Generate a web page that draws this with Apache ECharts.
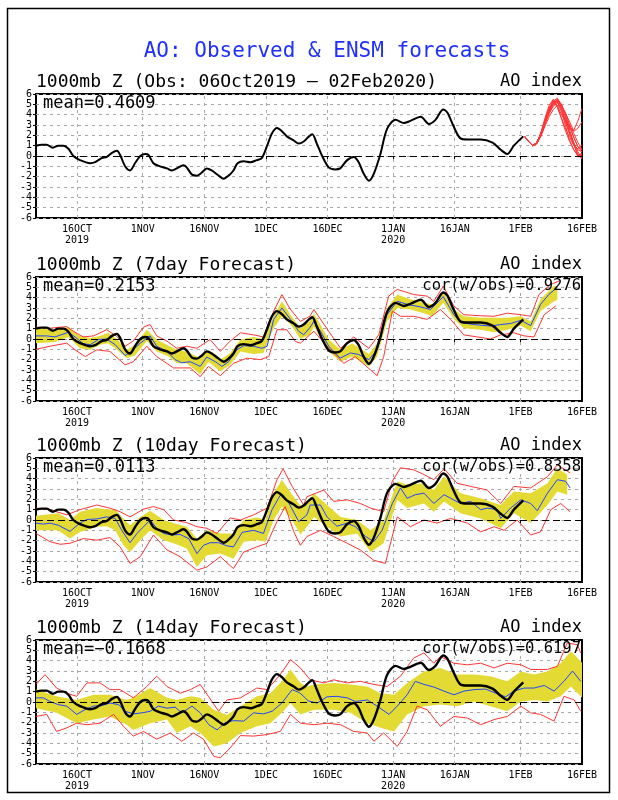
<!DOCTYPE html>
<html>
<head>
<meta charset="utf-8">
<script src="https://cdn.jsdelivr.net/npm/echarts@6/dist/echarts.min.js"></script>
<style>
  html, body { margin: 0; padding: 0; background: #fff; }
  #chart { width: 618px; height: 800px; }
</style>
</head>
<body>
<div id="chart"></div>
<script>
// x values are days since 06 Oct 2019
const xTickDays = [10, 26, 41, 56, 71, 87, 102, 118, 133];
const xTickLabels = ['16OCT\n2019', '1NOV', '16NOV', '1DEC', '16DEC', '1JAN\n2020', '16JAN', '1FEB', '16FEB'];
const yTicks = [-6, 6, 1];

// observed AO index
const obsAO = [[0,1.0],[1.4,1.1],[2.6,1.1],[4.1,0.8],[5.4,1.0],[6.7,1.0],[7.9,0.7],[9.1,0.0],[10.7,-0.4],[13.2,-0.7],[14.4,-0.6],[16,-0.2],[17.2,-0.1],[18.5,0.3],[19.7,0.5],[20.5,0.1],[21.7,-1.0],[22.9,-1.4],[24.1,-0.7],[25.4,0.0],[26.6,0.2],[27.4,0.1],[28.6,-0.7],[30.2,-1.0],[31.9,-1.2],[33.1,-1.4],[34.3,-1.2],[35.9,-0.9],[36.7,-1.1],[38,-1.8],[39.2,-1.9],[40.4,-1.6],[41.6,-1.2],[42.8,-1.4],[44.5,-1.9],[45.7,-2.2],[46.9,-1.9],[48.1,-1.4],[49.1,-0.7],[50.6,-0.5],[52.2,-0.6],[53.8,-0.4],[55,-0.2],[56.3,1.0],[57.5,2.2],[58.7,2.7],[59.9,2.4],[61.1,1.9],[62.8,1.5],[64,1.2],[65.2,1.4],[66.5,1.9],[67.3,2.1],[68.4,1.2],[69.7,0],[71.3,-1.1],[72.9,-1.3],[74.1,-1.2],[75.8,-0.4],[77.4,-0.1],[78.6,-0.6],[79.8,-1.7],[81.1,-2.4],[82.3,-1.7],[83.9,0.2],[85.5,2.6],[87.6,3.5],[89.6,3.2],[91.2,3.4],[93.7,3.8],[95.7,3.1],[97.3,3.5],[99.2,4.5],[100.2,4.2],[101.8,2.8],[103.4,1.7],[105.1,1.6],[108.3,1.6],[111.2,1.3],[113.2,0.6],[114.8,0.2],[116.4,1.0],[118.7,1.9]];

// ensemble members, 02 Feb - 16 Feb
const ensDays = [119,120,121,122,123,124,125,126,127,128,129,130,131,132,133];
const ensMembers = [
  [1.9,1.4,1.0,1.3,2.1,3.3,4.4,5.2,5.3,4.5,3.2,2.1,1.2,0.6,0.4],
  [1.9,1.4,1.0,1.3,2.3,3.7,4.9,5.5,4.8,3.6,2.4,1.4,0.6,0.1,0.2],
  [1.9,1.4,1.0,1.3,2.1,3.2,4.3,5.0,5.5,5.0,3.9,2.5,1.3,0.4,-0.2],
  [1.9,1.4,1.0,1.2,2.0,3.1,4.1,4.8,5.2,4.5,3.4,2.7,2.5,3.4,4.6],
  [1.9,1.4,1.0,1.3,2.2,3.4,4.5,5.3,5.6,4.9,3.7,2.2,1.1,0.2,-0.3],
  [1.9,1.4,1.0,1.2,1.9,2.9,3.8,4.5,4.9,4.8,4.2,3.0,1.8,0.9,0.4],
  [1.9,1.4,1.0,1.3,2.2,3.5,4.7,5.3,4.7,3.7,2.6,1.8,1.0,0.7,1.1],
  [1.9,1.4,1.0,1.2,2.1,3.3,4.3,5.0,5.4,4.9,4.1,3.3,2.4,2.7,3.3],
  [1.9,1.4,1.0,1.3,2.2,3.4,4.6,5.4,5.2,4.3,2.9,1.5,0.6,0.0,0.3],
  [1.9,1.4,1.0,1.2,2.0,3.2,4.2,4.9,5.3,5.0,3.9,2.8,1.8,0.9,0.6],
  [1.9,1.4,1.0,1.3,2.1,3.3,4.4,5.1,5.5,4.7,3.3,2.2,1.2,-0.1,0.1],
  [1.9,1.4,1.0,1.3,2.1,3.4,4.5,5.2,4.9,4.0,3.4,3.0,2.2,1.3,0.6]
];

// 7day forecast
const f7Mean = [[0,0.3],[2.6,0.3],[4.6,0.2],[7.9,0.65],[9.5,0.2],[11.5,-0.45],[13.2,-0.55],[15.2,-0.05],[17.2,0],[19.3,-0.55],[21.7,-1.6],[23.3,-1.2],[25.4,-0.4],[27.8,0.3],[29.4,-0.7],[31.9,-1.2],[33.9,-2.0],[35.5,-2.3],[37.6,-2.2],[40,-2.65],[41.6,-1.75],[43.7,-2.2],[45.3,-2.65],[46.9,-2.2],[48.9,-1.05],[50.6,-0.65],[53,-0.7],[55,-0.9],[56.3,-0.7],[57.9,1.9],[59.9,3.0],[62,1.9],[64,0.75],[65.2,0.4],[66.7,1.1],[67.7,1.7],[69.3,0.75],[71.3,-0.7],[74.1,-1.85],[76.6,-1.35],[78.6,-1.5],[81.1,-2.0],[83.1,-1.05],[85.5,2.35],[88,3.65],[90.4,3.35],[93.7,3.1],[96.1,2.85],[99.2,4.1],[101.8,2.35],[103.4,1.6],[106.6,1.4],[110.7,1.25],[113.2,1.4],[115.6,1.5],[118.1,1.8],[120.5,1.3],[122.9,3.35],[124.9,4.3],[127,5.0]];
const f7SpreadHi = [[0,1.05],[4.6,0.9],[7.9,1.15],[10.7,0.3],[13.2,0.1],[15.6,0.3],[17.6,0.6],[19.7,0],[22.1,-1.05],[24.1,-0.55],[27,0.9],[29.4,-0.05],[32.3,-0.65],[34.3,-1.05],[36.7,-1.2],[40,-1.85],[42,-1.1],[44.9,-2.0],[47.3,-1.35],[49.8,-0.05],[53,0.2],[55.4,0],[57.9,2.2],[59.9,3.65],[62,2.35],[64.4,1.05],[66.7,1.7],[67.7,2.5],[71.3,-0.05],[74.2,-1.05],[77,-0.4],[81.1,-1.45],[83.1,-0.4],[85.5,3.0],[88,4.3],[91.2,3.85],[94.5,3.5],[96.5,3.35],[99.2,4.5],[101.8,2.85],[104.2,2.2],[108.3,2.05],[111.6,2.05],[114.8,2.05],[118.1,2.2],[120.5,1.7],[122.9,3.85],[126.2,5.15],[127,5.1]];
const f7SpreadLo = [[0,-0.4],[4.6,-0.3],[7.9,0.2],[10.7,-0.9],[13.2,-1.05],[15.6,-0.55],[17.6,-0.4],[19.7,-1.05],[22.1,-1.85],[24.1,-1.6],[27,-0.2],[29.4,-1.2],[32.3,-1.7],[34.3,-2.35],[36.7,-2.35],[40,-3.4],[42,-2.2],[44.9,-3.15],[47.3,-2.5],[49.8,-1.2],[53,-1.45],[55.4,-1.35],[57.9,1.05],[59.9,2.2],[62,1.4],[64.4,0],[66.7,0.4],[67.7,1.2],[71.3,-1.2],[74.2,-2.2],[77,-1.7],[81.1,-2.65],[83.1,-1.7],[85.5,1.7],[88,3.0],[91.2,2.85],[94.5,2.5],[96.5,2.2],[99.2,3.5],[101.8,1.9],[104.2,1.05],[108.3,0.9],[111.6,0.65],[114.8,0.9],[118.1,1.3],[120.5,0.75],[122.9,2.7],[126.2,3.65],[127,3.8]];
const f7Max = [[0,1.15],[3.4,1.05],[7.5,1.2],[9.1,0.75],[11.5,0.2],[14,0.3],[17.2,0.9],[19.7,0.25],[21.7,-0.7],[23.7,-0.2],[26.2,1.15],[27.8,1.4],[29.4,0.3],[31.9,-0.2],[34.3,-0.9],[36.7,-0.7],[39.2,-0.9],[42.4,-0.05],[44.9,-1.2],[47.3,-0.2],[49.8,0.6],[53,0.4],[55.4,0.2],[57.9,2.7],[59.9,4.3],[62,2.85],[64.4,1.7],[66.7,2.2],[67.7,2.85],[71.3,0.75],[74.2,-0.9],[77.4,0.2],[81.1,-0.9],[83.5,0.4],[85.9,4.15],[88,4.8],[92,4.3],[95.3,4.15],[96.9,3.65],[99.2,5.1],[101.8,3.2],[104.2,2.35],[108.3,2.25],[111.6,2.2],[114.8,2.5],[118.1,2.35],[120.5,2.2],[122.5,4.3],[125.4,5.3],[127.4,5.6]];
const f7Min = [[0,-1.0],[3.4,-0.7],[7.5,-0.4],[9.5,-1.05],[12,-1.7],[14.8,-1.05],[18,-1.2],[21.7,-2.5],[23.7,-2.2],[27,-0.7],[29.4,-1.7],[33.5,-2.8],[37.6,-2.8],[40,-3.65],[42,-2.65],[44.9,-3.55],[48.1,-2.35],[51.4,-1.85],[54.6,-2.0],[56.7,-1.7],[58.7,0.9],[61.1,0.9],[63.2,-0.25],[64.4,-0.4],[66.7,0.4],[67.7,0.75],[71.7,-1.05],[75,-2.35],[77.8,-1.7],[81.5,-3.0],[83.1,-3.55],[84.7,-1.7],[86.8,2.7],[88.8,2.2],[92,2.2],[95.3,1.9],[98.5,2.85],[101,1.9],[104.2,0.4],[107.5,0.2],[110.7,0],[113.2,0.4],[116.4,0.6],[118.9,0.3],[121.3,0.2],[123.8,2.35],[126.6,3.2]];

// 10day forecast
const f10Mean = [[0,-0.3],[1.8,-0.4],[3.4,-0.3],[5.4,-0.5],[8.3,-1.1],[10.7,-0.3],[12.4,0.05],[14.8,0.1],[17.2,0.3],[19.3,0.15],[20.9,-1.0],[22.9,-2.2],[24.6,-1.3],[26.2,-0.65],[27.8,0],[29.4,-0.8],[31.1,-1.3],[33.1,-1.45],[35.1,-1.4],[37.2,-1.8],[39.2,-3.25],[40.8,-2.45],[42.4,-2.2],[44.5,-2.2],[46.5,-2.5],[48.1,-2.6],[50.2,-1.2],[53,-1.0],[55.4,-1.3],[57.5,1.0],[59.5,2.4],[61.5,1.7],[64,-0.15],[66,0.5],[66.8,1.45],[69.3,1.45],[70.9,0.3],[73.3,-0.6],[75.8,-0.3],[77.8,-0.65],[80.3,-1.6],[82.3,-2.1],[84.3,-1.0],[86.8,1.6],[88.8,3.1],[90.4,2.1],[92.4,2.45],[94.5,2.6],[96.9,1.6],[99.4,2.45],[101,2.1],[103.4,1.6],[105.9,1.8],[108.3,1.0],[109.9,1.15],[112.4,1.0],[113.2,0.15],[115.6,1.15],[118.1,1.95],[120.5,1.6],[122.1,0.9],[124.6,2.6],[127,3.9],[129,3.75],[130.1,3.1]];
const f10SpreadHi = [[0,0.4],[5.4,0.65],[8.3,0],[10.7,0.8],[14.8,1.15],[17.2,1.05],[19.3,1.0],[21.3,0.15],[22.9,-0.5],[25.4,0.3],[27.8,0.9],[31.1,0],[33.5,-0.3],[36.7,-0.65],[39.2,-1.8],[41.6,-1.0],[44.9,-1.3],[48.1,-1.3],[50.6,0],[53.8,0.25],[55.9,0],[57.9,2.6],[59.9,3.9],[62.4,2.45],[64.4,1.4],[66,1.6],[67.7,2.6],[70.9,1.45],[74.2,0.3],[78.2,0],[81.5,-1.0],[84.7,0],[88,3.75],[90.4,3.4],[94.5,3.55],[96.9,2.9],[99.4,4.2],[103.4,2.6],[108.3,2.1],[113.2,1.45],[116.4,2.75],[120.5,2.6],[124.6,3.55],[127,5.0],[129.4,4.4]];
const f10SpreadLo = [[0,-1.0],[5.4,-1.0],[8.3,-1.8],[10.7,-1.15],[14.8,-0.65],[17.2,-0.6],[19.3,-1.0],[21.3,-2.45],[22.9,-3.1],[25.4,-1.95],[27.8,-1.0],[31.1,-1.95],[33.5,-2.25],[36.7,-2.75],[39.2,-4.55],[41.6,-3.4],[44.9,-3.25],[48.1,-3.75],[50.6,-2.1],[53.8,-1.95],[55.9,-2.1],[57.9,0],[59.9,1.3],[62.4,0],[64.4,-1.4],[66,-0.65],[67.7,0.3],[70.9,-0.65],[74.2,-1.6],[78.2,-1.3],[81.5,-3.1],[84.7,-2.25],[88,1.95],[90.4,1.15],[94.5,1.6],[96.9,0.8],[99.4,1.8],[103.4,0.65],[108.3,0.15],[113.2,-0.8],[116.4,0.65],[120.5,-0.3],[124.6,1.45],[127,2.75],[129.4,2.45]];
const f10Max = [[0,1.15],[3.4,1.0],[7.5,0.5],[10.7,1.0],[14.8,1.45],[18,1.15],[20.5,0.8],[22.9,0.3],[26.2,1.05],[28.6,1.3],[31.1,1.0],[33.5,0],[36.7,-0.25],[39.2,-0.65],[41.6,-0.8],[44.1,-1.3],[47.3,0.2],[49.8,0],[53,0.5],[56.3,1.15],[58.7,3.9],[60.2,4.95],[62.4,3.25],[65.2,1.45],[66,2.25],[70.1,2.9],[72.5,1.8],[75.8,1.95],[79,1.6],[81.5,1.15],[84.7,0.8],[86.8,3.75],[88.8,5.05],[92,4.85],[94.5,4.4],[96.9,3.9],[99.4,4.95],[102.6,3.55],[105.9,3.25],[109.9,2.9],[113.2,1.6],[116.4,3.25],[120.5,3.1],[124.6,4.2],[127,5.35],[130.1,4.55]];
const f10Min = [[0,-1.3],[3.4,-2.1],[5.9,-2.35],[8.3,-2.25],[11.5,-1.8],[14.8,-1.95],[18,-1.7],[20.5,-2.6],[22.9,-4.2],[25.4,-3.55],[28.6,-1.45],[31.9,-2.9],[35.1,-3.55],[39.2,-4.85],[41.6,-4.55],[44.9,-3.55],[48.1,-4.7],[50.6,-3.1],[53.8,-2.6],[56.3,-2.25],[58.7,-0.15],[60.7,1.3],[62.8,-1.15],[64.4,-2.45],[66,-1.6],[69.3,-1.0],[72.5,-1.6],[75.8,-2.25],[79,-2.9],[82.3,-3.9],[85.1,-4.2],[88,0.3],[91.2,-0.65],[94.5,0],[97.7,-0.3],[101,0.15],[105.1,-0.3],[108.3,-1.15],[111.6,-0.65],[114,-1.0],[117.2,0],[120.5,-1.45],[122.9,-1.15],[125.4,1.0],[127.8,1.6],[130.1,0.8]];

// 14day forecast
const f14Mean = [[0,0.4],[1.8,0.4],[3.4,0.05],[5.4,-0.25],[7.5,-0.4],[9.9,-1.2],[11.9,-0.75],[14,-0.4],[16,-0.35],[18,-0.1],[20.1,-0.25],[21.7,-0.9],[23.7,-1.15],[25.8,-1.05],[27.8,-0.9],[29.8,-0.4],[31.9,-0.6],[33.9,-0.5],[35.5,-1.05],[38,-0.4],[40,-1.05],[42.1,-2.2],[44.1,-2.7],[46.1,-2.0],[48.1,-1.8],[50.6,-1.85],[53,-1.05],[55.4,-1.15],[57.5,-0.9],[59.9,-0.1],[62.4,1.2],[64.2,0.9],[65.6,0.4],[66.3,0.1],[68.5,-0.1],[70.9,0.5],[73.3,0.55],[75.8,0.4],[77.8,0.05],[80.7,0.2],[83.1,-0.4],[86,-1.2],[88,-0.4],[90.4,0.7],[92.4,2.0],[94.5,1.7],[96.9,1.45],[99.4,1.05],[101.8,0.7],[104.2,1.05],[106.7,1.2],[109.5,1.25],[112,0.85],[114.4,0.5],[116.4,1.05],[118.9,1.35],[121.3,1.35],[123.8,1.6],[126.2,1.05],[128.6,2.0],[130.7,3.0],[132.7,2.0]];
const f14SpreadHi = [[0,1.2],[5,0.55],[9.9,0.2],[14,0.7],[18,0.7],[22.1,0.2],[23.7,0.4],[27.8,1.35],[31.9,0.4],[34.3,0.2],[37.6,0.55],[40,0.4],[43.3,-0.75],[46.5,-1.25],[49.8,-0.4],[53.8,0.55],[57.1,0.85],[59.9,2.0],[62,3.15],[64.4,1.85],[66,1.5],[67.7,1.7],[72.5,1.85],[76.6,1.7],[80.7,1.5],[83.9,0.85],[87.2,0.7],[90.4,1.85],[94.5,2.95],[98.5,3.3],[102.6,2.65],[106.7,2.65],[110.7,2.5],[114.8,2.0],[118.1,2.95],[121.3,2.65],[124.6,2.95],[127.8,3.75],[130.3,4.9],[132.7,3.95],[133,3.8]];
const f14SpreadLo = [[0,-0.6],[5,-1.05],[9.9,-2.05],[14,-1.7],[18,-1.4],[22.1,-2.2],[23.7,-2.7],[27.8,-2.05],[31.9,-1.7],[34.3,-3.0],[37.6,-2.35],[40,-3.0],[43.3,-4.3],[46.5,-4.0],[49.8,-3.0],[53.8,-2.35],[57.1,-2.05],[59.9,-1.05],[62,-0.1],[64.4,-1.2],[67.7,-0.75],[72.5,-0.75],[76.6,-1.05],[80.7,-2.05],[83.9,-2.5],[87.2,-2.85],[90.4,-1.2],[94.5,-0.4],[98.5,-0.25],[102.6,-0.4],[106.7,0.05],[110.7,-0.4],[114.8,-0.9],[118.1,0.05],[121.3,0.2],[124.6,0.05],[127.8,0.55],[130.3,1.5],[132.7,0.55],[133,0.4]];
const f14Max = [[0,1.7],[2.2,2.65],[5,1.35],[7.5,0.85],[9.9,0.55],[12.4,1.85],[15.6,1.85],[18,1.2],[20.5,1.2],[23.7,0.4],[27,1.5],[29.4,2.5],[31.9,1.5],[35.1,0.85],[37.6,1.2],[40,1.7],[42,0.55],[44.5,-0.9],[46.5,0.2],[49.8,0.4],[53.8,1.35],[56.3,1.2],[59.5,2.65],[62,4.1],[64.4,3.3],[66.8,2.15],[70.1,1.85],[72.5,2.15],[75.8,1.85],[79,2.0],[82.3,1.7],[85.5,1.5],[88.8,2.5],[92,4.25],[94.5,4.75],[96.9,3.75],[98.5,4.4],[101.8,3.75],[105.1,3.6],[108.3,3.75],[111.6,3.3],[114.8,3.75],[118.1,3.6],[120.5,3.15],[124.6,3.15],[127,3.45],[129.4,5.7],[131.9,5.55],[132.7,4.75]];
const f14Min = [[0,-1.4],[2.6,-1.2],[5,-2.85],[7.5,-2.5],[9.9,-2.05],[12.4,-2.2],[15.6,-2.05],[18.9,-1.2],[21.3,-2.35],[23.7,-3.3],[26.2,-2.85],[29.4,-3.6],[32.7,-3.0],[35.5,-3.8],[38.4,-3.0],[40.8,-3.6],[43.3,-5.25],[44.9,-5.4],[47.3,-4.45],[49.8,-3.25],[53,-3.3],[56.3,-3.15],[59.5,-2.85],[62,-1.2],[64.4,-2.05],[67.7,-2.2],[70.9,-2.05],[74.2,-2.2],[77.4,-2.85],[80.7,-3.0],[82.3,-3.8],[84.7,-3.0],[88,-4.3],[90.4,-2.85],[92.8,-0.4],[95.3,-0.75],[98.5,-2.35],[101.8,-1.4],[105.1,-1.55],[108.3,-2.2],[111.6,-1.7],[114.8,-1.4],[118.1,-0.4],[120.5,-1.05],[122.9,-1.2],[126.2,-1.85],[128.6,0.55],[131.1,0.2],[132.7,-0.9]];

const panelTitles = ['1000mb Z (Obs: 06Oct2019 \u2013 02Feb2020)', '1000mb Z (7day Forecast)', '1000mb Z (10day Forecast)', '1000mb Z (14day Forecast)'];
const meanLabels = ['mean=0.4609', 'mean=0.2153', 'mean=0.0113', 'mean=\u22120.1668'];
const corLabels = ['', 'cor(w/obs)=0.9276', 'cor(w/obs)=0.8358', 'cor(w/obs)=0.6197'];

const FONT = "'DejaVu Sans Mono', monospace";
const YELLOW = '#e4da34';
const RED = '#ff3434';
const BLUE = '#1f45ff';
const gridTops = [94, 277, 458, 640];
const GRID_LEFT = 36, GRID_W = 546, GRID_H = 124;

function lineSeries(idx, data, color, width, z, smooth) {
  return {
    type: 'line', xAxisIndex: idx, yAxisIndex: idx, data: data,
    symbol: 'none', showSymbol: false, smooth: smooth || false,
    lineStyle: { color: color, width: width }, z: z, silent: true
  };
}

function bandSeries(idx, hi, lo) {
  return {
    type: 'custom', xAxisIndex: idx, yAxisIndex: idx, data: [[0, 0]], z: 2, silent: true,
    renderItem(params, api) {
      const points = hi.map(p => api.coord(p)).concat(lo.slice().reverse().map(p => api.coord(p)));
      return { type: 'polygon', shape: { points: points }, style: { fill: YELLOW } };
    }
  };
}

function guideSeries(idx) {
  // vertical dashed grid at the date ticks + black dashed zero line
  return [{
    type: 'line', xAxisIndex: idx, yAxisIndex: idx, data: [], silent: true,
    markLine: {
      z: 1, silent: true, symbol: 'none', label: { show: false }, animation: false,
      lineStyle: { color: '#a8a8a8', type: [3, 4], width: 1 },
      data: xTickDays.slice(0, -1).map(d => ({ xAxis: d }))
    }
  }, {
    type: 'line', xAxisIndex: idx, yAxisIndex: idx, data: [], silent: true,
    markLine: {
      z: 6, silent: true, symbol: 'none', label: { show: false }, animation: false,
      lineStyle: { color: '#000', type: [7, 4], width: 1.2 },
      data: [{ yAxis: 0 }]
    }
  }];
}

const grids = [], xAxes = [], yAxes = [], series = [];
gridTops.forEach((top, i) => {
  grids.push({ left: GRID_LEFT, top: top, width: GRID_W, height: GRID_H, show: true, borderColor: '#000', borderWidth: 2, backgroundColor: 'transparent' });
  xAxes.push({
    type: 'value', gridIndex: i, min: 0, max: 133,
    axisLine: { show: false },
    axisTick: { show: true, customValues: xTickDays, length: 4, lineStyle: { color: '#000' } },
    axisLabel: {
      customValues: xTickDays, formatter: v => xTickLabels[xTickDays.indexOf(v)],
      fontFamily: FONT, fontSize: 10, color: '#000', margin: 6, lineHeight: 11
    },
    splitLine: { show: false }
  });
  yAxes.push({
    type: 'value', gridIndex: i, min: yTicks[0], max: yTicks[1], interval: yTicks[2],
    axisLine: { show: false },
    axisTick: { show: true, length: 3, lineStyle: { color: '#000' } },
    axisLabel: { fontFamily: FONT, fontSize: 10, color: '#000', margin: 4 },
    splitLine: { show: true, lineStyle: { color: '#a8a8a8', type: [3, 4], width: 1 } }
  });
  series.push(...guideSeries(i));
});

// panel 1: observed + ensemble members
series.push(lineSeries(0, obsAO, '#000', 2, 5, 0.3));
ensMembers.forEach(m => {
  series.push(lineSeries(0, ensDays.map((d, k) => [d, m[k]]), RED, 1, 4));
});

// panels 2-4: spread band, min/max, ensemble mean, observed
[[f7Mean, f7SpreadHi, f7SpreadLo, f7Max, f7Min],
 [f10Mean, f10SpreadHi, f10SpreadLo, f10Max, f10Min],
 [f14Mean, f14SpreadHi, f14SpreadLo, f14Max, f14Min]].forEach((f, j) => {
  const i = j + 1;
  series.push(bandSeries(i, f[1], f[2]));
  series.push(lineSeries(i, f[3], RED, 1, 3));
  series.push(lineSeries(i, f[4], RED, 1, 3));
  series.push(lineSeries(i, f[0], BLUE, 1, 4));
  series.push(lineSeries(i, obsAO, '#000', 2.4, 5, 0.3));
});

function txt(x, y, text, size, align, color) {
  return {
    type: 'text', x: x, y: y, silent: true, z: 10,
    style: { text: text, fill: color || '#000', font: size + 'px ' + FONT, textAlign: align, align: align, textVerticalAlign: 'middle', verticalAlign: 'middle' }
  };
}

const graphics = [
  { type: 'rect', shape: { x: 7.5, y: 8.5, width: 602, height: 784 }, style: { fill: 'none', stroke: '#000', lineWidth: 1.5 }, silent: true },
  txt(327, 52, 'AO: Observed & ENSM forecasts', 21, 'center', '#1f2fff')
];
gridTops.forEach((top, i) => {
  graphics.push(txt(GRID_LEFT, top - 12, panelTitles[i], 18, 'left'));
  graphics.push(txt(GRID_LEFT + GRID_W, top - 12, 'AO index', 17, 'right'));
  graphics.push(txt(43, top + 10, meanLabels[i], 17, 'left'));
  if (corLabels[i]) graphics.push(txt(GRID_LEFT + GRID_W - 1, top + 9, corLabels[i], 15.5, 'right'));
});

const chart = echarts.init(document.getElementById('chart'), null, { renderer: 'canvas' });
chart.setOption({
  animation: false,
  backgroundColor: '#fff',
  grid: grids,
  xAxis: xAxes,
  yAxis: yAxes,
  series: series,
  graphic: graphics
});
</script>
</body>
</html>
